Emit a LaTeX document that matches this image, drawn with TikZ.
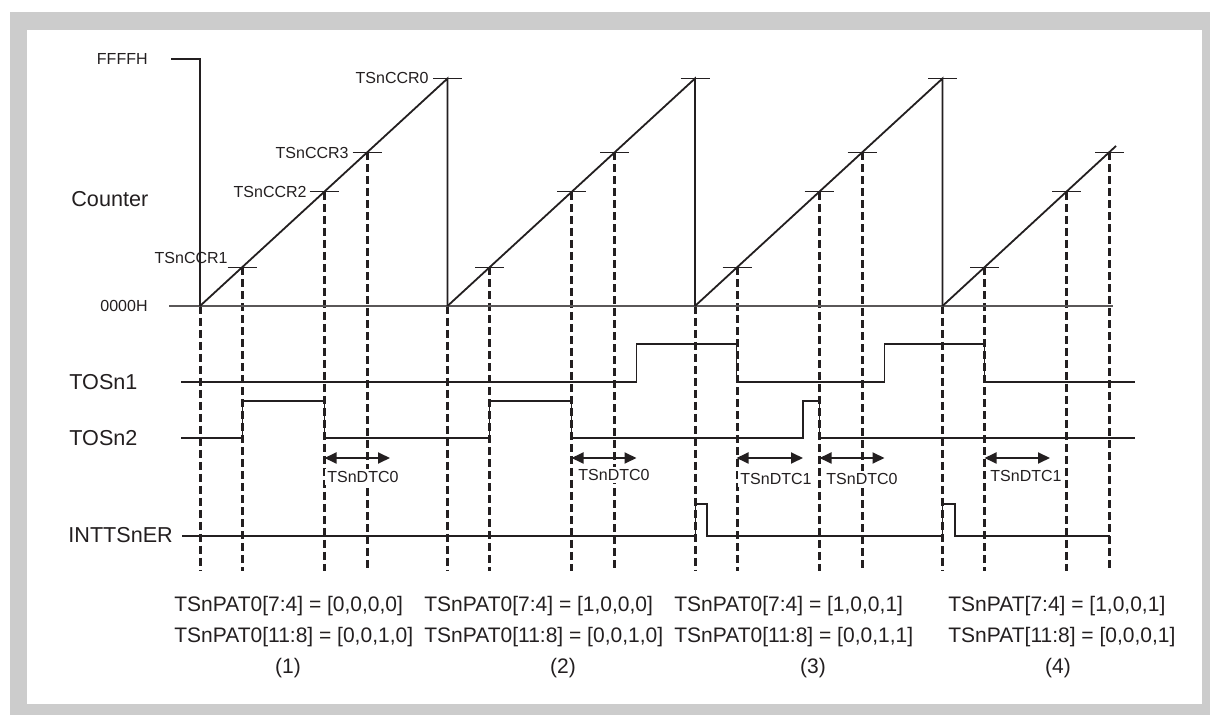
\documentclass[tikz,border=0pt]{standalone}
\usepackage{fontspec}
\setmainfont{Liberation Sans}
\usetikzlibrary{arrows.meta}
\definecolor{frame}{HTML}{CCCCCC}
\definecolor{ink}{HTML}{231F20}
\begin{document}
\begin{tikzpicture}[x=0.5pt,y=-0.5pt,
  sig/.style={ink, line width=0.9pt, line join=miter},
  ramp/.style={ink, line width=0.9pt},
  tickmark/.style={ink, line width=0.6pt},
  baseline/.style={ink!75, line width=0.6pt},
  guide/.style={ink, line width=1.4pt, dash pattern=on 4pt off 2pt},
  dtarrow/.style={ink, line width=0.9pt, {Triangle[length=6pt,width=5.5pt]}-{Triangle[length=6pt,width=5.5pt]}},
  lbl/.style={ink, inner sep=0pt, anchor=west, font=\fontsize{10.8pt}{13pt}\selectfont},
  small/.style={ink, inner sep=0pt, font=\fontsize{8pt}{10pt}\selectfont},
  dtlabel/.style={small, fill=white, inner sep=1pt, anchor=west},
  pat/.style={ink, inner sep=0pt, anchor=west, font=\fontsize{10.5pt}{12pt}\selectfont},
  num/.style={ink, inner sep=0pt, font=\fontsize{10.5pt}{12pt}\selectfont}]
\useasboundingbox (0,0) rectangle (1210,715);
\fill[frame] (10,12) rectangle (1210,715);
\fill[white] (27,30) rectangle (1202,704);

% ---- dashed guide lines
\foreach \k in {0,...,3}{
  \pgfmathsetmacro{\xs}{200+247.5*\k}
  \pgfmathsetmacro{\xg}{floor(\xs)+0.5}
  \draw[guide] (\xg,306) -- (\xg,571);
  \foreach \c in {42,124,167}{
    \pgfmathsetmacro{\xc}{\xs+\c}
    \pgfmathsetmacro{\xd}{floor(\xc)+0.5}
    \pgfmathsetmacro{\yc}{306-0.9212*\c}
    \draw[guide] (\xd,\yc) -- (\xd,571);
    \draw[tickmark] (\xc-14.5,\yc) -- (\xc+14.5,\yc);
  }
}

% ---- counter
\draw[baseline] (169,306) -- (1113,306);
\draw[ramp] (171,59) -- (200,59) -- (200,306);
\foreach \k in {0,1,2}{
  \pgfmathsetmacro{\xs}{200+247.5*\k}
  \pgfmathsetmacro{\xe}{\xs+247.5}
  \draw[ramp] (\xs,306) -- (\xe,78.5) -- (\xe,306);
  \draw[tickmark] (\xe-14.5,78.5) -- (\xe+14.5,78.5);
}
\draw[ramp] (942.5,306) -- (1116,146);

% ---- labels of the counter
\node[small, anchor=east] (ffff) at (148,59) {FFFFH};
\node[small, anchor=east] (zero) at (148,306) {0000H};
\node[small, anchor=east] (ccr0) at (429,78) {TSnCCR0};
\node[small, anchor=east] (ccr3) at (349,153) {TSnCCR3};
\node[small, anchor=east] (ccr2) at (307,192) {TSnCCR2};
\node[small, anchor=east] (ccr1) at (228,258) {TSnCCR1};
\node[lbl] (cnt) at (71,199) {Counter};
\node[lbl] (tos1) at (69,382) {TOSn1};
\node[lbl] (tos2) at (69,438) {TOSn2};
\node[lbl] (intr) at (68,535) {INTTSnER};

% ---- signals
\draw[sig] (181,382) -- (636.5,382) -- (636.5,344) -- (736.5,344) -- (736.5,382)
  -- (884.5,382) -- (884.5,344) -- (984.5,344) -- (984.5,382) -- (1135,382);
\draw[sig] (181,438) -- (242.5,438) -- (242.5,401) -- (324.5,401) -- (324.5,438)
  -- (489.5,438) -- (489.5,401) -- (571.5,401) -- (571.5,438)
  -- (803,438) -- (803,401) -- (819.5,401) -- (819.5,438) -- (1135,438);
\draw[sig] (182,536) -- (695.5,536) -- (695.5,504) -- (707,504) -- (707,536)
  -- (942.5,536) -- (942.5,504) -- (955,504) -- (955,536) -- (1110,536);

% ---- dead times
\draw[dtarrow] (324.5,458) -- (390,458);
\draw[dtarrow] (571.5,458) -- (636.5,458);
\draw[dtarrow] (736.5,458) -- (803,458);
\draw[dtarrow] (819.5,458) -- (884.5,458);
\draw[dtarrow] (984.5,458) -- (1050,458);
\node[dtlabel] (d1) at (325,477) {TSnDTC0};
\node[dtlabel] (d2) at (576,475) {TSnDTC0};
\node[dtlabel] (d3) at (738,479) {TSnDTC1};
\node[dtlabel] (d4) at (824,479) {TSnDTC0};
\node[dtlabel] (d5) at (988,476) {TSnDTC1};

% ---- patterns
\node[pat] (p1a) at (174,606) {TSnPAT0[7:4] = [0,0,0,0]};
\node[pat] (p1b) at (174,637) {TSnPAT0[11:8] = [0,0,1,0]};
\node[num] (n1) at (288,668) {(1)};
\node[pat] (p2a) at (424,606) {TSnPAT0[7:4] = [1,0,0,0]};
\node[pat] (p2b) at (424,637) {TSnPAT0[11:8] = [0,0,1,0]};
\node[num] (n2) at (563,668) {(2)};
\node[pat] (p3a) at (674,606) {TSnPAT0[7:4] = [1,0,0,1]};
\node[pat] (p3b) at (674,637) {TSnPAT0[11:8] = [0,0,1,1]};
\node[num] (n3) at (813,668) {(3)};
\node[pat] (p4a) at (948,606) {TSnPAT[7:4] = [1,0,0,1]};
\node[pat] (p4b) at (948,637) {TSnPAT[11:8] = [0,0,0,1]};
\node[num] (n4) at (1058,668) {(4)};
\end{tikzpicture}
\end{document}
